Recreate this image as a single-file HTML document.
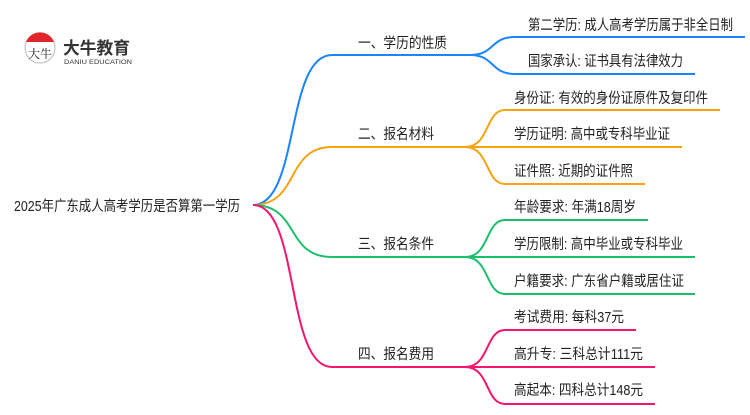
<!DOCTYPE html>
<html><head><meta charset="utf-8"><style>
html,body{margin:0;padding:0;background:#fff;}
svg text{font-family:"Liberation Sans","Noto Sans CJK SC",sans-serif;fill:#222;}
</style></head><body>
<svg width="750" height="410" viewBox="0 0 750 410" xmlns="http://www.w3.org/2000/svg">
<!-- logo -->
<circle cx="40" cy="48" r="15" fill="#fff" stroke="#bbb" stroke-width="1"/>
<path d="M26,42 A15,15 0 0 1 54,42 Z" fill="#e0262b"/>
<text x="28" y="58" font-size="12" textLength="24" lengthAdjust="spacingAndGlyphs" style="font-family:'Noto Serif CJK SC',serif">大牛</text>
<text x="63" y="54" font-size="17" font-weight="bold" textLength="67" lengthAdjust="spacingAndGlyphs" style="fill:#333">大牛教育</text>
<text x="64" y="64" font-size="6.5" textLength="68" lengthAdjust="spacingAndGlyphs" style="fill:#333">DANIU EDUCATION</text>
<!-- connectors -->
<g fill="none" stroke-width="2">
<path d="M253,205 C300,205 285,55 332,55 L470,55" stroke="#1a85ff"/>
<path d="M253,205 C300,205 285,147 332,147 L465,147" stroke="#f5a30f"/>
<path d="M253,205 C300,205 285,257 332,257 L465,257" stroke="#1abf6a"/>
<path d="M253,205 C300,205 285,367 332,367 L465,367" stroke="#f5146e"/>
<path d="M470,55 C495,55 490,37 515,37 L745,37" stroke="#1a85ff"/>
<path d="M470,55 C495,55 490,74 515,74 L695,74" stroke="#1a85ff"/>
<path d="M465,147 C490,147 485,110 505,110 L720,110" stroke="#f5a30f"/>
<path d="M465,147 L682,147" stroke="#f5a30f"/>
<path d="M465,147 C490,147 485,184 505,184 L645,184" stroke="#f5a30f"/>
<path d="M465,257 C490,257 485,220 505,220 L648,220" stroke="#1abf6a"/>
<path d="M465,257 L695,257" stroke="#1abf6a"/>
<path d="M465,257 C490,257 485,294 505,294 L695,294" stroke="#1abf6a"/>
<path d="M465,367 C490,367 485,330 505,330 L636,330" stroke="#f5146e"/>
<path d="M465,367 L655,367" stroke="#f5146e"/>
<path d="M465,367 C490,367 485,404 505,404 L655,404" stroke="#f5146e"/>
</g>
<g font-size="14.5" lengthAdjust="spacingAndGlyphs">
<text x="14" y="211" textLength="226" lengthAdjust="spacingAndGlyphs">2025年广东成人高考学历是否算第一学历</text>
<text x="358" y="48" textLength="89" lengthAdjust="spacingAndGlyphs">一、学历的性质</text>
<text x="358" y="139" textLength="76" lengthAdjust="spacingAndGlyphs">二、报名材料</text>
<text x="358" y="249" textLength="76" lengthAdjust="spacingAndGlyphs">三、报名条件</text>
<text x="358" y="359" textLength="76" lengthAdjust="spacingAndGlyphs">四、报名费用</text>
<text x="528" y="30" textLength="205" lengthAdjust="spacingAndGlyphs">第二学历: 成人高考学历属于非全日制</text>
<text x="528" y="66" textLength="155" lengthAdjust="spacingAndGlyphs">国家承认: 证书具有法律效力</text>
<text x="514" y="103" textLength="194" lengthAdjust="spacingAndGlyphs">身份证: 有效的身份证原件及复印件</text>
<text x="514" y="139" textLength="156" lengthAdjust="spacingAndGlyphs">学历证明: 高中或专科毕业证</text>
<text x="514" y="176" textLength="119" lengthAdjust="spacingAndGlyphs">证件照: 近期的证件照</text>
<text x="514" y="212" textLength="122" lengthAdjust="spacingAndGlyphs">年龄要求: 年满18周岁</text>
<text x="514" y="249" textLength="169" lengthAdjust="spacingAndGlyphs">学历限制: 高中毕业或专科毕业</text>
<text x="514" y="286" textLength="170" lengthAdjust="spacingAndGlyphs">户籍要求: 广东省户籍或居住证</text>
<text x="514" y="322" textLength="110" lengthAdjust="spacingAndGlyphs">考试费用: 每科37元</text>
<text x="514" y="359" textLength="129" lengthAdjust="spacingAndGlyphs">高升专: 三科总计111元</text>
<text x="514" y="395" textLength="129" lengthAdjust="spacingAndGlyphs">高起本: 四科总计148元</text>
</g>
</svg>
</body></html>
